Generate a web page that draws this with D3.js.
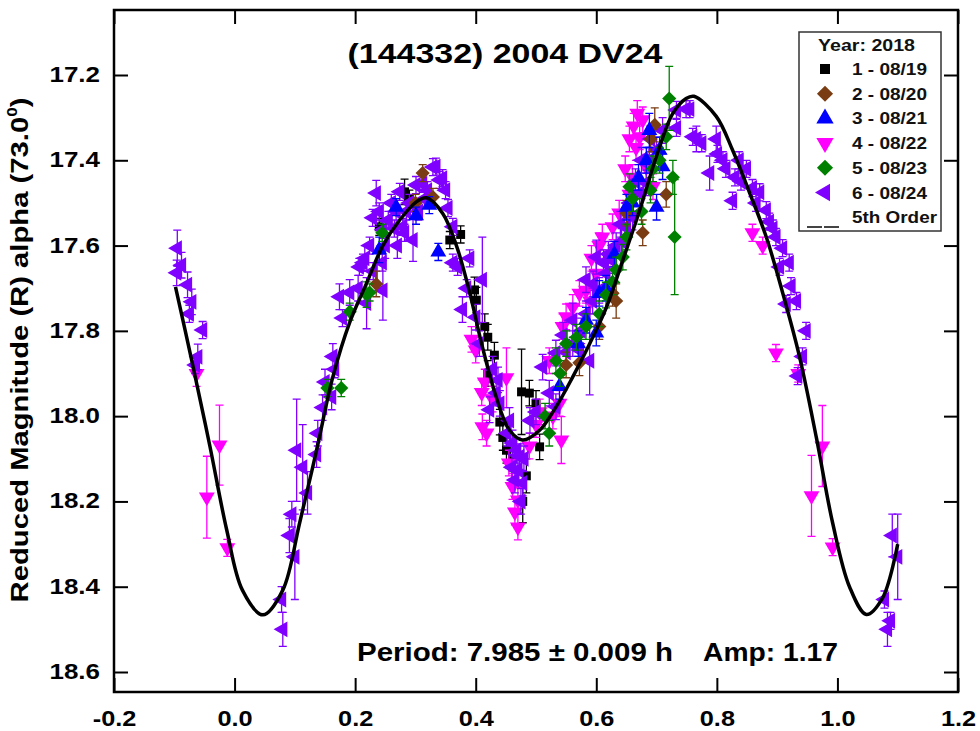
<!DOCTYPE html>
<html>
<head>
<meta charset="utf-8">
<script src="https://cdn.jsdelivr.net/npm/d3@7"></script>
<style>
  html, body { margin: 0; padding: 0; background: #fff; }
  svg { display: block; font-family: Arial, "Liberation Sans", sans-serif; }
</style>
</head>
<body>
<svg id="lc" width="980" height="731"></svg>
<script>
// Lightcurve of (144332) 2004 DV24, phased, 2018 session

const phaseTicks = [-0.2, 0.0, 0.2, 0.4, 0.6, 0.8, 1.0, 1.2];
const magTicks = [17.2, 17.4, 17.6, 17.8, 18.0, 18.2, 18.4, 18.6];

const sessionLabels = ['1 - 08/19', '2 - 08/20', '3 - 08/21', '4 - 08/22', '5 - 08/23', '6 - 08/24'];
const fitLabel = '5th Order';

// [phase, reduced mag, error]
const obs0819 = [
  [0.24, 17.556, 0.02], [0.282, 17.474, 0.03], [0.29, 17.49, 0.02], [0.357, 17.587, 0.02], [0.375, 17.574, 0.02],
  [0.398, 17.704, 0.03], [0.401, 17.728, 0.03], [0.415, 17.79, 0.03], [0.42, 17.815, 0.03], [0.431, 17.857, 0.03],
  [0.42, 17.90, 0.03], [0.44, 18.014, 0.03], [0.445, 18.05, 0.03], [0.451, 18.08, 0.03], [0.461, 18.10, 0.03],
  [0.476, 17.943, 0.10], [0.489, 17.946, 0.03], [0.50, 17.97, 0.03], [0.506, 18.072, 0.03], [0.484, 18.14, 0.04],
  [0.478, 18.20, 0.05]
];
const obs0820 = [
  [0.235, 17.69, 0.03], [0.312, 17.43, 0.02], [0.329, 17.486, 0.02], [0.30, 17.50, 0.02], [0.55, 17.88, 0.03],
  [0.572, 17.875, 0.03], [0.605, 17.79, 0.03], [0.627, 17.712, 0.03], [0.633, 17.73, 0.04], [0.65, 17.524, 0.03],
  [0.677, 17.57, 0.03], [0.69, 17.35, 0.03], [0.697, 17.317, 0.04], [0.716, 17.48, 0.03]
];
const obs0821 = [
  [0.24, 17.61, 0.03], [0.268, 17.51, 0.02], [0.301, 17.53, 0.02], [0.323, 17.505, 0.02], [0.338, 17.615, 0.02],
  [0.539, 17.93, 0.03], [0.57, 17.83, 0.03], [0.583, 17.775, 0.03], [0.60, 17.805, 0.03], [0.605, 17.712, 0.03],
  [0.616, 17.70, 0.03], [0.63, 17.62, 0.03], [0.65, 17.51, 0.03], [0.66, 17.50, 0.03], [0.67, 17.44, 0.03],
  [0.683, 17.40, 0.03], [0.688, 17.33, 0.04], [0.70, 17.51, 0.03], [0.705, 17.376, 0.03], [0.71, 17.415, 0.03]
];
const obs0822 = [
  [-0.063, 17.90, 0.03], [-0.025, 18.068, 0.094], [-0.046, 18.19, 0.096], [-0.012, 18.309, 0.02],
  [0.393, 17.82, 0.03], [0.40, 17.845, 0.03], [0.415, 17.92, 0.03], [0.41, 17.945, 0.03], [0.428, 17.96, 0.03],
  [0.451, 17.91, 0.07], [0.411, 18.025, 0.03], [0.418, 18.04, 0.03], [0.461, 18.165, 0.03], [0.47, 18.197, 0.03],
  [0.47, 18.26, 0.03], [0.50, 18.02, 0.03], [0.506, 17.99, 0.03], [0.542, 18.056, 0.055], [0.539, 17.97, 0.03],
  [0.528, 18.0, 0.03], [0.489, 18.07, 0.03], [0.455, 18.11, 0.03], [0.465, 18.225, 0.03],
  [0.522, 17.87, 0.03], [0.544, 17.79, 0.03], [0.55, 17.767, 0.03], [0.561, 17.745, 0.03], [0.572, 17.712, 0.03],
  [0.583, 17.705, 0.03], [0.59, 17.73, 0.03], [0.592, 17.63, 0.03], [0.60, 17.665, 0.03], [0.605, 17.60, 0.03],
  [0.61, 17.58, 0.03], [0.627, 17.556, 0.03], [0.638, 17.524, 0.03], [0.648, 17.42, 0.03], [0.655, 17.48, 0.03],
  [0.655, 17.35, 0.03], [0.66, 17.44, 0.03], [0.662, 17.32, 0.03], [0.666, 17.37, 0.03], [0.668, 17.29, 0.03],
  [0.672, 17.345, 0.03], [0.677, 17.305, 0.03], [0.683, 17.416, 0.03], [0.694, 17.462, 0.03],
  [0.859, 17.57, 0.02], [0.876, 17.60, 0.02], [0.898, 17.852, 0.02], [0.935, 17.90, 0.02], [0.975, 18.07, 0.095],
  [0.957, 18.187, 0.095], [0.992, 18.307, 0.02]
];
const obs0823 = [
  [0.154, 17.934, 0.02], [0.177, 17.934, 0.02], [0.191, 17.755, 0.02], [0.219, 17.715, 0.03], [0.224, 17.71, 0.02],
  [0.245, 17.57, 0.02], [0.515, 18.0, 0.03], [0.522, 18.04, 0.03], [0.533, 17.87, 0.03], [0.54, 17.9, 0.03],
  [0.55, 17.83, 0.03], [0.567, 17.815, 0.03], [0.583, 17.79, 0.03], [0.605, 17.76, 0.03], [0.616, 17.716, 0.03],
  [0.627, 17.685, 0.03], [0.633, 17.657, 0.03], [0.644, 17.627, 0.03], [0.65, 17.58, 0.03], [0.655, 17.462, 0.03],
  [0.66, 17.49, 0.03], [0.675, 17.52, 0.03], [0.69, 17.47, 0.03], [0.694, 17.42, 0.03], [0.705, 17.40, 0.03],
  [0.716, 17.345, 0.03], [0.721, 17.255, 0.075], [0.727, 17.44, 0.04], [0.73, 17.58, 0.135]
];
const obs0824 = [
  [-0.095, 17.606, 0.042], [-0.096, 17.664, 0.03], [-0.088, 17.646, 0.03], [-0.078, 17.692, 0.03], [-0.075, 17.76, 0.02],
  [-0.071, 17.732, 0.03], [-0.053, 17.798, 0.02], [-0.061, 17.861, 0.03], [-0.065, 17.88, 0.02],
  [0.080, 18.50, 0.04], [0.078, 18.43, 0.03], [0.091, 18.28, 0.04], [0.100, 18.33, 0.10], [0.103, 18.08, 0.12],
  [0.113, 18.12, 0.10], [0.121, 18.18, 0.05], [0.095, 18.23, 0.03], [0.136, 18.09, 0.03], [0.138, 18.04, 0.03],
  [0.146, 17.98, 0.03], [0.150, 17.92, 0.03], [0.161, 17.955, 0.03], [0.163, 17.86, 0.03], [0.166, 17.89, 0.02],
  [0.174, 17.72, 0.03], [0.179, 17.77, 0.02], [0.191, 17.71, 0.03], [0.205, 17.70, 0.03], [0.207, 17.65, 0.02],
  [0.213, 17.64, 0.02], [0.216, 17.63, 0.03], [0.219, 17.735, 0.06], [0.224, 17.60, 0.02], [0.229, 17.535, 0.02],
  [0.23, 17.66, 0.02], [0.235, 17.477, 0.03], [0.24, 17.52, 0.02], [0.245, 17.64, 0.02], [0.246, 17.563, 0.02],
  [0.246, 17.705, 0.07], [0.25, 17.60, 0.03], [0.255, 17.54, 0.02], [0.26, 17.50, 0.02], [0.265, 17.56, 0.02],
  [0.268, 17.52, 0.03], [0.27, 17.60, 0.03], [0.274, 17.474, 0.02], [0.279, 17.556, 0.02], [0.282, 17.57, 0.02],
  [0.285, 17.52, 0.02], [0.29, 17.50, 0.02], [0.296, 17.587, 0.05], [0.301, 17.458, 0.02], [0.305, 17.52, 0.02],
  [0.312, 17.455, 0.02], [0.315, 17.49, 0.02], [0.32, 17.47, 0.02], [0.329, 17.416, 0.02], [0.334, 17.415, 0.02],
  [0.34, 17.446, 0.02], [0.345, 17.442, 0.02], [0.35, 17.47, 0.02], [0.354, 17.512, 0.02], [0.362, 17.556, 0.02],
  [0.362, 17.64, 0.02], [0.37, 17.65, 0.02], [0.378, 17.75, 0.03], [0.385, 17.70, 0.02], [0.39, 17.63, 0.02],
  [0.40, 17.768, 0.03], [0.406, 17.83, 0.03], [0.411, 17.68, 0.10], [0.423, 17.985, 0.03], [0.428, 17.89, 0.03],
  [0.434, 17.946, 0.03], [0.437, 17.915, 0.03], [0.44, 17.97, 0.03], [0.452, 18.04, 0.03], [0.456, 18.01, 0.03],
  [0.46, 18.12, 0.03], [0.461, 18.063, 0.03], [0.465, 18.15, 0.03], [0.468, 18.08, 0.03], [0.47, 18.126, 0.03],
  [0.473, 18.095, 0.03], [0.475, 18.20, 0.03], [0.478, 18.157, 0.03], [0.48, 18.10, 0.03],
  [0.49, 18.01, 0.03], [0.50, 17.99, 0.03], [0.511, 17.885, 0.03], [0.522, 17.946, 0.03], [0.533, 17.978, 0.03],
  [0.533, 17.852, 0.03], [0.545, 17.81, 0.03], [0.55, 17.85, 0.03], [0.561, 17.83, 0.03], [0.561, 17.775, 0.04],
  [0.572, 17.845, 0.03], [0.575, 17.80, 0.03], [0.583, 17.76, 0.03], [0.583, 17.68, 0.03], [0.589, 17.87, 0.08],
  [0.594, 17.73, 0.03], [0.595, 17.69, 0.03], [0.60, 17.627, 0.04], [0.605, 17.705, 0.03], [0.612, 17.64, 0.03],
  [0.616, 17.665, 0.03], [0.62, 17.62, 0.03], [0.627, 17.635, 0.03], [0.633, 17.60, 0.03], [0.64, 17.55, 0.03],
  [0.642, 17.59, 0.03], [0.65, 17.556, 0.03], [0.655, 17.50, 0.03], [0.66, 17.533, 0.03], [0.665, 17.45, 0.03],
  [0.672, 17.477, 0.03], [0.675, 17.40, 0.03], [0.683, 17.453, 0.03], [0.688, 17.40, 0.03], [0.69, 17.35, 0.03],
  [0.70, 17.376, 0.03], [0.71, 17.33, 0.03],
  [0.733, 17.282, 0.02], [0.733, 17.324, 0.02], [0.749, 17.28, 0.02], [0.755, 17.28, 0.02], [0.76, 17.345, 0.02],
  [0.766, 17.35, 0.03], [0.775, 17.36, 0.02], [0.788, 17.43, 0.04], [0.799, 17.35, 0.03], [0.801, 17.385, 0.02],
  [0.81, 17.40, 0.02], [0.815, 17.42, 0.02], [0.826, 17.495, 0.02], [0.83, 17.44, 0.02], [0.837, 17.40, 0.02],
  [0.84, 17.45, 0.02], [0.849, 17.42, 0.02], [0.859, 17.465, 0.02], [0.865, 17.50, 0.02], [0.871, 17.475, 0.02],
  [0.882, 17.517, 0.02], [0.887, 17.544, 0.02], [0.893, 17.56, 0.02], [0.898, 17.58, 0.02], [0.904, 17.65, 0.02],
  [0.909, 17.606, 0.02], [0.915, 17.737, 0.02], [0.92, 17.64, 0.02], [0.923, 17.695, 0.02], [0.932, 17.73, 0.02],
  [0.934, 17.906, 0.02], [0.942, 17.86, 0.02], [0.948, 17.80, 0.02],
  [1.078, 18.43, 0.02], [1.083, 18.50, 0.04], [1.088, 18.48, 0.02], [1.091, 18.28, 0.05], [1.10, 18.33, 0.10]
];

// 5th order Fourier fit
const fitPhase = [-0.098, -0.07, -0.041, -0.013, 0.013, 0.047, 0.08, 0.108, 0.136, 0.163, 0.191, 0.219, 0.246,
  0.274, 0.301, 0.318, 0.345, 0.368, 0.39, 0.411, 0.434, 0.456, 0.478, 0.506, 0.533, 0.561, 0.589, 0.617, 0.644,
  0.672, 0.70, 0.727, 0.749, 0.762, 0.799, 0.826, 0.854, 0.882, 0.909, 0.937, 0.965, 0.992, 1.02, 1.048, 1.075, 1.10];
const fitMag = [17.697, 17.876, 18.07, 18.267, 18.408, 18.466, 18.408, 18.25, 18.08, 17.908, 17.78, 17.688, 17.60,
  17.54, 17.498, 17.488, 17.524, 17.60, 17.71, 17.837, 17.955, 18.033, 18.056, 18.033, 17.979, 17.908, 17.83, 17.744,
  17.634, 17.517, 17.39, 17.29, 17.255, 17.25, 17.297, 17.376, 17.475, 17.58, 17.71, 17.86, 18.05, 18.25, 18.40,
  18.465, 18.426, 18.30];

const sessions = [obs0819, obs0820, obs0821, obs0822, obs0823, obs0824];
const colors = ['#000000', '#7a3c12', '#0000ff', '#ff00ff', '#008000', '#8000ff'];
const shapes = [
  { type: d3.symbolSquare, rot: 0, size: 80 },
  { type: d3.symbolSquare, rot: 45, size: 100 },
  { type: d3.symbolTriangle, rot: 0, size: 110 },
  { type: d3.symbolTriangle, rot: 180, size: 110 },
  { type: d3.symbolSquare, rot: 45, size: 100 },
  { type: d3.symbolTriangle, rot: -90, size: 110 }
];

const svg = d3.select('#lc');
const frame = { left: 114, right: 958, top: 10, bottom: 692 };

const x = d3.scaleLinear().domain([-0.2, 1.2]).range([frame.left, frame.right]);
const y = d3.scaleLinear().domain([17.2, 18.6]).range([75, 672]);
const fmt = d => d.toFixed(1);

// stretch text horizontally (the original uses a wide bold face)
function widen(sel, k) {
  sel.each(function() {
    const w = this.getComputedTextLength();
    d3.select(this).attr('textLength', w * k).attr('lengthAdjust', 'spacingAndGlyphs');
  });
}

// --- data ---
const plot = svg.append('g');
const drawOrder = [0, 3, 5, 1, 2, 4];
drawOrder.forEach(i => {
  const g = plot.append('g');
  const c = colors[i];
  const pts = sessions[i];
  g.selectAll('line.bar').data(pts).join('line')
    .attr('x1', d => x(d[0])).attr('x2', d => x(d[0]))
    .attr('y1', d => y(d[1] - d[2])).attr('y2', d => y(d[1] + d[2]))
    .attr('stroke', c).attr('stroke-width', 1.3);
  g.selectAll('path.cap').data(pts).join('path')
    .attr('d', d => {
      const px = x(d[0]);
      return `M${px - 4},${y(d[1] - d[2])}H${px + 4}M${px - 4},${y(d[1] + d[2])}H${px + 4}`;
    })
    .attr('stroke', c).attr('stroke-width', 1.3).attr('fill', 'none');
  const sym = d3.symbol().type(shapes[i].type).size(shapes[i].size);
  g.selectAll('path.pt').data(pts).join('path')
    .attr('d', sym)
    .attr('transform', d => `translate(${x(d[0])},${y(d[1])}) rotate(${shapes[i].rot})`)
    .attr('fill', c);
});

// --- fit curve ---
const fitLine = d3.line().x(d => x(d[0])).y(d => y(d[1])).curve(d3.curveCatmullRom);
svg.append('path')
  .datum(fitPhase.map((p, i) => [p, fitMag[i]]))
  .attr('d', fitLine)
  .attr('fill', 'none').attr('stroke', '#000').attr('stroke-width', 3.5);

// --- axes ---
const tickLen = 14;
const gx = svg.append('g').attr('transform', `translate(0,${frame.bottom})`)
  .call(d3.axisBottom(x).tickValues(phaseTicks).tickSize(-tickLen).tickFormat(fmt));
gx.selectAll('text').attr('y', 34).attr('dy', 0);
const gy = svg.append('g').attr('transform', `translate(${frame.left},0)`)
  .call(d3.axisLeft(y).tickValues(magTicks).tickSize(-tickLen).tickPadding(14).tickFormat(fmt));
gy.selectAll('text').attr('dy', 6.5);
svg.append('g').attr('transform', `translate(0,${frame.top})`)
  .call(d3.axisTop(x).tickValues(phaseTicks).tickSize(-tickLen).tickFormat(''));
svg.append('g').attr('transform', `translate(${frame.right},0)`)
  .call(d3.axisRight(y).tickValues(magTicks).tickSize(-tickLen).tickFormat(''));

svg.selectAll('.domain').remove();
svg.selectAll('.tick line').attr('stroke', '#000').attr('stroke-width', 2);
svg.selectAll('.tick text')
  .attr('fill', '#000').attr('font-size', 22).attr('font-weight', 'bold')
  .attr('font-family', 'Arial, "Liberation Sans", sans-serif');
widen(gx.selectAll('text'), 1.15);
widen(gy.selectAll('text'), 1.18);

svg.append('rect')
  .attr('x', frame.left).attr('y', frame.top)
  .attr('width', frame.right - frame.left).attr('height', frame.bottom - frame.top)
  .attr('fill', 'none').attr('stroke', '#000').attr('stroke-width', 2.5);

// --- texts ---
svg.append('text')
  .attr('x', 505).attr('y', 63).attr('text-anchor', 'middle')
  .attr('font-size', 28).attr('font-weight', 'bold')
  .attr('textLength', 315).attr('lengthAdjust', 'spacingAndGlyphs')
  .text('(144332) 2004 DV24');

svg.append('text')
  .attr('x', 357).attr('y', 661).attr('font-size', 25).attr('font-weight', 'bold')
  .attr('textLength', 316).attr('lengthAdjust', 'spacingAndGlyphs')
  .text('Period: 7.985 \u00b1 0.009 h');
svg.append('text')
  .attr('x', 703).attr('y', 661).attr('font-size', 25).attr('font-weight', 'bold')
  .attr('textLength', 135).attr('lengthAdjust', 'spacingAndGlyphs')
  .text('Amp: 1.17');

const ylab = svg.append('text')
  .attr('text-anchor', 'middle').attr('font-size', 24).attr('font-weight', 'bold');
ylab.append('tspan').text('Reduced Magnitude (R) alpha (73.0');
ylab.append('tspan').attr('font-size', 14).attr('dy', -11).text('0');
ylab.append('tspan').attr('dy', 11).text(')');
const ylen = ylab.node().getComputedTextLength();
ylab.attr('transform', `translate(28,350) rotate(-90) scale(${505 / ylen},1)`);

// --- legend ---
const leg = svg.append('g').attr('font-size', 16.5).attr('font-weight', 'bold').attr('fill', '#111');
leg.append('rect')
  .attr('x', 799).attr('y', 32).attr('width', 142).attr('height', 199)
  .attr('fill', '#fff').attr('stroke', '#333').attr('stroke-width', 1.5);
leg.append('text')
  .attr('x', 818).attr('y', 51)
  .attr('textLength', 97).attr('lengthAdjust', 'spacingAndGlyphs')
  .text('Year: 2018');
sessionLabels.forEach((lab, i) => {
  const yy = 75 + i * 24.7;
  leg.append('path')
    .attr('d', d3.symbol().type(shapes[i].type).size(i === 0 ? 100 : 130)())
    .attr('transform', `translate(825,${yy - 6}) rotate(${shapes[i].rot})`)
    .attr('fill', colors[i]);
  leg.append('text').attr('x', 852).attr('y', yy)
    .attr('textLength', 75).attr('lengthAdjust', 'spacingAndGlyphs')
    .text(lab);
});
leg.append('line')
  .attr('x1', 807).attr('x2', 840).attr('y1', 227).attr('y2', 227)
  .attr('stroke', '#444').attr('stroke-width', 2).attr('stroke-dasharray', '15,2');
leg.append('text').attr('x', 852).attr('y', 223)
  .attr('textLength', 85).attr('lengthAdjust', 'spacingAndGlyphs')
  .text(fitLabel);
</script>
</body>
</html>
